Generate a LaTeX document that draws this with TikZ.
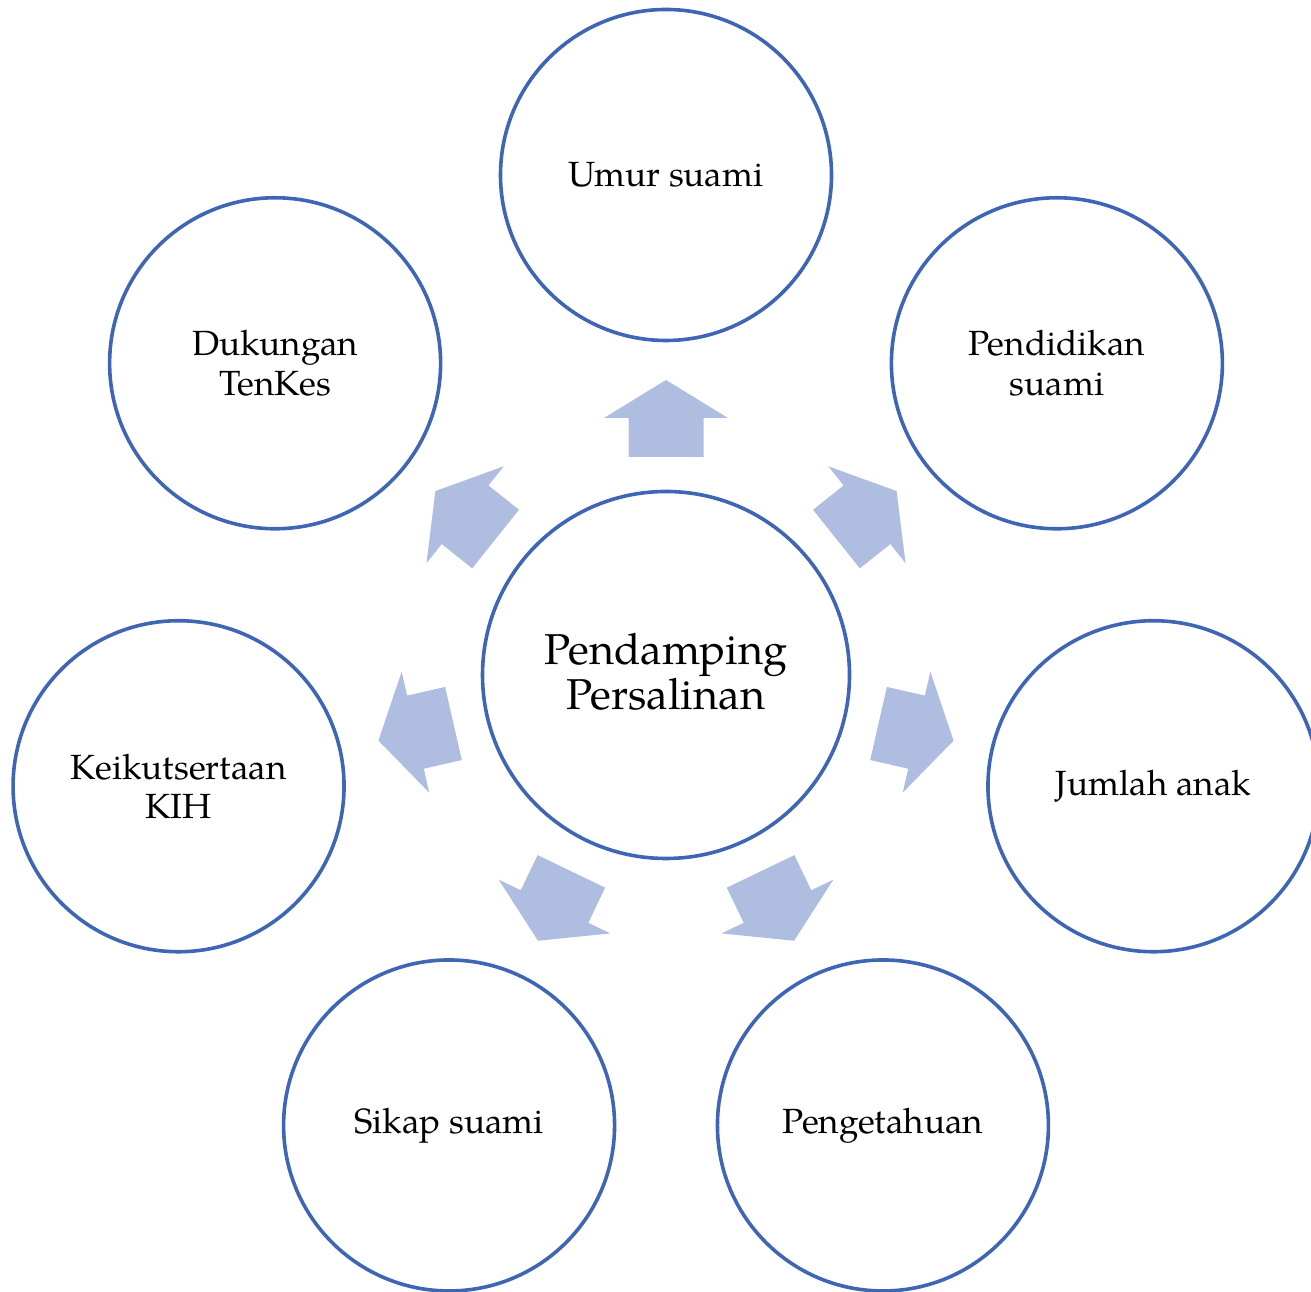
\documentclass[tikz,border=0pt]{standalone}
\usepackage{fontspec}
\setmainfont{TeX Gyre Pagella}
\usetikzlibrary{calc}
\definecolor{ringblue}{RGB}{62,102,180}
\definecolor{arrowfill}{RGB}{175,189,224}
\begin{document}
\begin{tikzpicture}[x=1pt,y=1pt,
  outer/.style={circle,draw=ringblue,line width=3.6pt,minimum size=331pt,inner sep=0pt,align=center,
     font=\fontsize{35}{39.5}\selectfont},
  hub/.style={circle,draw=ringblue,line width=3.6pt,minimum size=367pt,inner sep=0pt,align=center,
     font=\fontsize{43.2}{45}\selectfont},
  blockarrow/.style={fill=arrowfill,draw=none}]
\useasboundingbox (0,0) rectangle (1311,1292);
\clip (0,0) rectangle (1311,1292);
\coordinate (o) at (666,617);
\node[hub] (c) at (o) {};
\node (ct) at ($(o)+(0,3)$) [align=center,font=\fontsize{43.2}{45}\selectfont] {Pendamping\\Persalinan};
\node[outer] (n1) at ($(o)+(90:500)$) {Umur suami};
\node[outer] (n2) at ($(o)+(38.571:500)$) {Pendidikan\\suami};
\node[outer] (n3) at ($(o)+(-12.857:500)$) {Jumlah anak};
\node[outer] (n4) at ($(o)+(-64.286:500)$) {Pengetahuan};
\node[outer] (n5) at ($(o)+(-115.714:500)$) {Sikap suami};
\node[outer] (n6) at ($(o)+(-167.143:500)$) {Keikutsertaan\\KIH};
\node[outer] (n7) at ($(o)+(141.429:500)$) {Dukungan\\TenKes};
\foreach \a in {90,38.571,-12.857,-64.286,-115.714,-167.143,141.429}{
  \fill[blockarrow,shift={(o)},rotate=\a]
    (218,-37.5) -- (257,-37.5) -- (257,-62) -- (295,0) -- (257,62) -- (257,37.5) -- (218,37.5) -- cycle;
}
\end{tikzpicture}
\end{document}
